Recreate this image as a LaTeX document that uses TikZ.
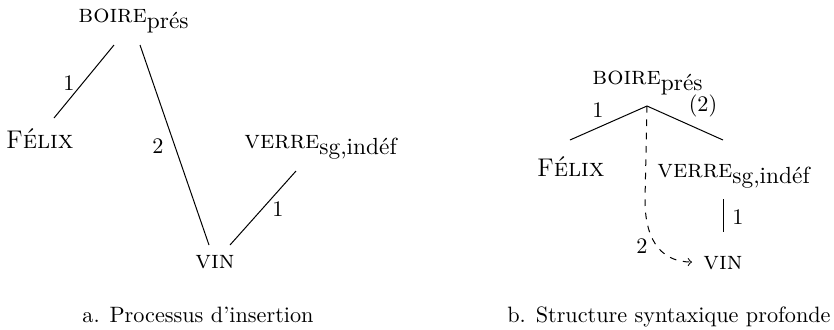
\documentclass[tikz,border=0pt]{standalone}
\usepackage{fontspec}
\newcommand\lsub[1]{\raisebox{-2.7pt}{\fontsize{10.5}{12}\selectfont #1}}
\newcommand\lex[1]{{\fontsize{11.5}{13}\selectfont #1}}
\tikzset{
  word/.style={inner sep=0pt, anchor=base west},
  lab/.style={inner sep=0pt, anchor=center},
  captxt/.style={inner sep=0pt, anchor=base, font=\fontsize{10}{12}\selectfont},
  rel/.style={line width=0.45pt},
}
\begin{document}
\begin{tikzpicture}[x=0.45pt,y=-0.45pt]
\useasboundingbox (0,0) rectangle (834,329);
% panel a
\node[word] (boireA) at (78,22) {\lex{\textsc{boire}}\lsub{prés}};
\node[word] (felixA) at (6,148) {\lex{F\textsc{élix}}};
\node[word] (verreA) at (244,148) {\lex{\textsc{verre}}\lsub{sg,indéf}};
\node[word] (vinA) at (195,268) {\lex{\textsc{vin}}};
\node[captxt] (capA) at (198,322) {a. Processus d’insertion};
\coordinate (a1s) at (114,45); \coordinate (a1e) at (54,118);
\coordinate (a2s) at (140,45); \coordinate (a2e) at (209,245);
\coordinate (a3s) at (296,171); \coordinate (a3e) at (230,245);
\draw[rel] (a1s) -- (a1e);
\draw[rel] (a2s) -- (a2e);
\draw[rel] (a3s) -- (a3e);
\node[lab] (la1) at (69,83) {1};
\node[lab] (la2) at (158,146) {2};
\node[lab] (la3) at (278,209) {1};
% panel b
\node[word] (boireB) at (592,84) {\lex{\textsc{boire}}\lsub{prés}};
\node[word] (felixB) at (537,176) {\lex{F\textsc{élix}}};
\node[word] (verreB) at (657,177) {\lex{\textsc{verre}}\lsub{sg,indéf}};
\node[word] (vinB) at (703,269) {\lex{\textsc{vin}}};
\node[captxt] (capB) at (669,322) {b. Structure syntaxique profonde};
\coordinate (apex) at (647,106);
\coordinate (bl) at (570,140);
\coordinate (br) at (723,140);
\coordinate (vt) at (723,199);
\coordinate (vb) at (723,232);
\coordinate (dmid) at (645,200);
\coordinate (dend) at (692,262);
\draw[rel] (bl) -- (apex) -- (br);
\draw[rel] (vt) -- (vb);
\draw[rel, dashed, ->] (apex) -- (dmid) .. controls (645,245) and (665,262) .. (dend);
\node[lab] (lb1) at (598,110) {1};
\node[lab] (lb2) at (703,106) {(2)};
\node[lab] (lb3) at (738,217) {1};
\node[lab] (lb4) at (642,246) {2};
\end{tikzpicture}
\end{document}
